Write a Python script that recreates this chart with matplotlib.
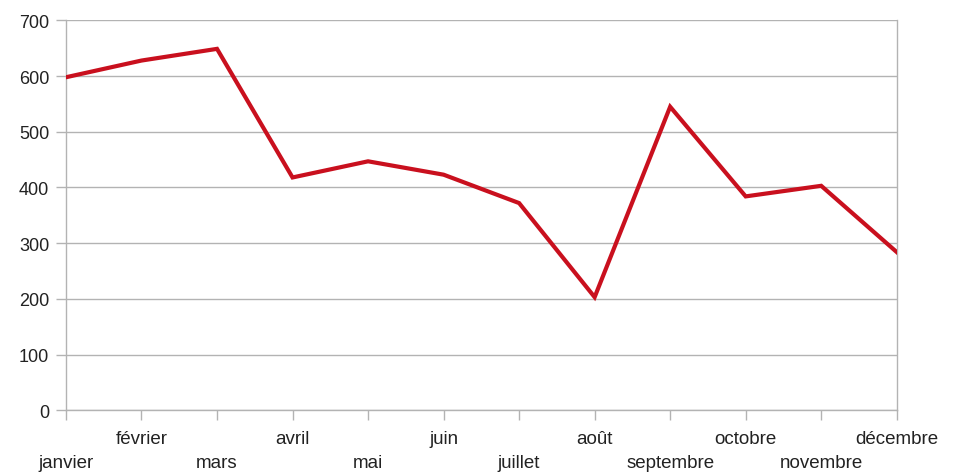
import matplotlib.pyplot as plt

plt.rcParams['font.family'] = ['Liberation Sans', 'DejaVu Sans']

# données
mois = ["janvier", "février", "mars", "avril", "mai", "juin",
        "juillet", "août", "septembre", "octobre", "novembre", "décembre"]
valeurs = [598, 628, 649, 418, 447, 423, 372, 203, 545, 384, 403, 284]
y_ticks = [0, 100, 200, 300, 400, 500, 600, 700]

fig = plt.figure(figsize=(9.56, 4.77), dpi=100)
ax = fig.add_axes([0.069, 0.138, 0.869, 0.817])

x = list(range(len(mois)))
ax.plot(x, valeurs, color="#c9101e", linewidth=3, solid_joinstyle="miter", zorder=3)

ax.set_xlim(0, len(mois) - 1)
ax.set_ylim(0, 700)
ax.set_yticks(y_ticks)
ax.grid(axis="y", color="#b3b3b3", linewidth=1)
ax.set_axisbelow(True)

# étiquettes décalées : une sur deux plus bas
labels = [("\n" + m) if i % 2 == 0 else m for i, m in enumerate(mois)]
ax.set_xticks(x)
ax.set_xticklabels(labels, linespacing=1.6, fontsize=13.5)

ax.tick_params(axis="both", colors="#b3b3b3", length=7, width=1,
               labelcolor="#222222")
ax.tick_params(axis="y", labelsize=13, pad=5)
ax.tick_params(axis="x", pad=7)

for s in ["left", "bottom", "right"]:
    ax.spines[s].set_color("#b3b3b3")
    ax.spines[s].set_linewidth(1)
ax.spines["top"].set_visible(False)

fig.savefig("out.png", dpi=100)
